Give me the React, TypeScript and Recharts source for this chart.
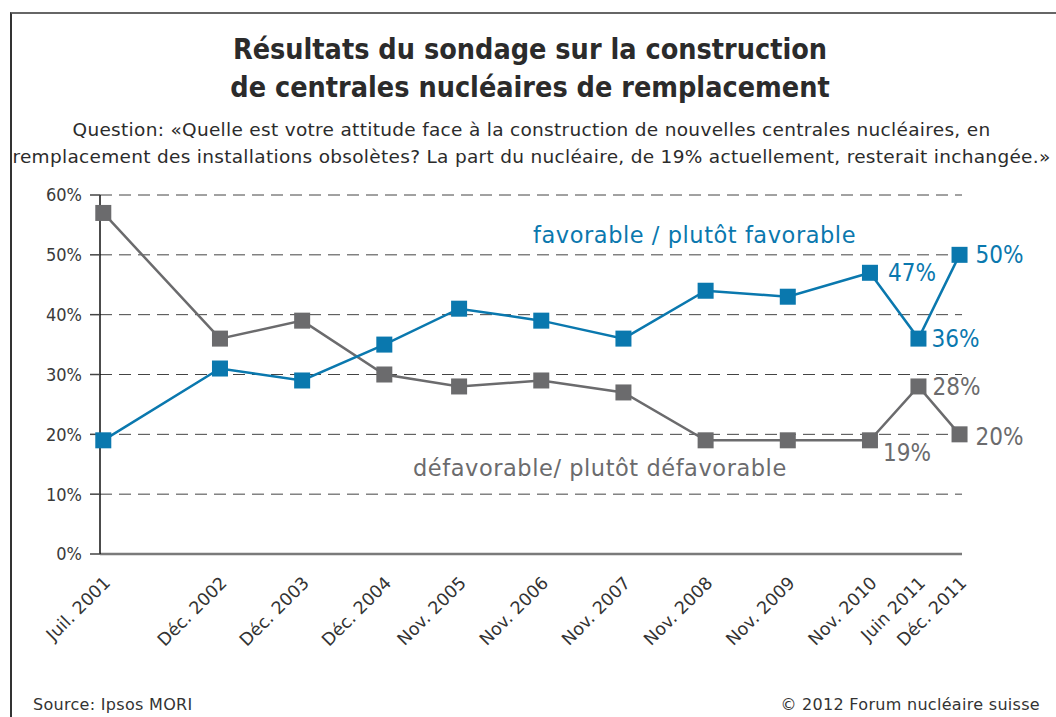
import { LineChart, Line, XAxis, YAxis, CartesianGrid, LabelList } from 'recharts';

const periods = [
  'Juil. 2001', 'Déc. 2002', 'Déc. 2003', 'Déc. 2004', 'Nov. 2005', 'Nov. 2006',
  'Nov. 2007', 'Nov. 2008', 'Nov. 2009', 'Nov. 2010', 'Juin 2011', 'Déc. 2011',
];
// survey dates as decimal years (month midpoints)
const periodDates = [2001.5, 2002.92, 2003.92, 2004.92, 2005.83, 2006.83, 2007.83, 2008.83, 2009.83, 2010.83, 2011.42, 2011.92];
const favorable = [19, 31, 29, 35, 41, 39, 36, 44, 43, 47, 36, 50];
const defavorable = [57, 36, 39, 30, 28, 29, 27, 19, 19, 19, 28, 20];
const yTicks = [0, 10, 20, 30, 40, 50, 60];

const data = periods.map((label, i) => ({
  label,
  t: periodDates[i],
  favorable: favorable[i],
  defavorable: defavorable[i],
}));

const BLUE = '#0a78ae';
const GREY = '#6b6b6d';
const COND = '"DejaVu Sans Condensed", "DejaVu Sans", sans-serif';
const FONT = '"DejaVu Sans", sans-serif';

// where the end labels sit relative to their points
const favOffsets: Record<number, [number, number]> = { 9: [18, 0], 10: [13, 0], 11: [16, 0] };
const defOffsets: Record<number, [number, number]> = { 9: [13, 12], 10: [14, 0], 11: [16, 2] };

const SquareDot = (color: string) => (props: any) => {
  const { cx, cy, index } = props;
  if (cx == null || cy == null) return null;
  return <rect key={index} x={cx - 8} y={cy - 8} width={16} height={16} fill={color} />;
};

const endLabel = (color: string, offsets: Record<number, [number, number]>) => (props: any) => {
  const { x, y, value, index } = props;
  const off = offsets[index];
  if (!off) return null;
  return (
    <text x={x + off[0]} y={y + off[1]} dy="0.35em" fill={color} fontSize={24} fontFamily={COND} textAnchor="start">
      {value}%
    </text>
  );
};

const DateTick = (props: any) => {
  const { x, y, payload } = props;
  const i = periodDates.indexOf(payload.value);
  return (
    <text
      transform={`translate(${x + 8},${y + 22}) rotate(-45)`}
      textAnchor="end"
      fontSize={17.5}
      fontFamily={FONT}
      fill="#333"
    >
      {periods[i]}
    </text>
  );
};

export default function App() {
  return (
    <div style={{ position: 'absolute', left: 0, top: 0, width: 1056, height: 717, background: '#fff', fontFamily: FONT, color: '#333', overflow: 'hidden' }}>
      <div style={{ position: 'absolute', left: 10, top: 12, width: 1060, height: 720, borderTop: '2px solid #666', borderLeft: '2px solid #333' }} />
      <div style={{ position: 'absolute', left: 0, width: 1060, top: 31, textAlign: 'center', fontFamily: COND, fontWeight: 'bold', fontSize: 28.5, lineHeight: '38px', color: '#2b2b2b' }}>
        Résultats du sondage sur la construction<br />de centrales nucléaires de remplacement
      </div>
      <div style={{ position: 'absolute', left: 0, width: 1063, top: 116, textAlign: 'center', fontSize: 18.5, letterSpacing: 0.3, lineHeight: '27px', color: '#2b2b2b', whiteSpace: 'nowrap' }}>
        Question: «Quelle est votre attitude face à la construction de nouvelles centrales nucléaires, en<br />
        remplacement des installations obsolètes? La part du nucléaire, de 19% actuellement, resterait inchangée.»
      </div>

      <div style={{ position: 'absolute', left: 0, top: 0 }}>
        <LineChart width={1056} height={717} data={data} margin={{ top: 195, right: 94, bottom: 0, left: 0 }}>
          <CartesianGrid vertical={false} stroke="#444" strokeDasharray="12 7" />
          <XAxis
            dataKey="t"
            type="number"
            domain={[2001.46, 2011.95]}
            ticks={periodDates}
            interval={0}
            height={163}
            tick={<DateTick />}
            tickLine={false}
            axisLine={{ stroke: '#7a7a7a', strokeWidth: 2.5 }}
          />
          <YAxis
            type="number"
            domain={[0, 60]}
            ticks={yTicks}
            width={100}
            tickSize={10}
            tickMargin={8}
            tickLine={{ stroke: '#444', strokeWidth: 1.5 }}
            axisLine={{ stroke: '#111', strokeWidth: 1.5 }}
            tickFormatter={(v) => `${v}%`}
            tick={{ fontSize: 18, fill: '#3a3a3a', fontFamily: COND }}
          />
          <Line
            dataKey="defavorable"
            stroke={GREY}
            strokeWidth={2.5}
            dot={SquareDot(GREY)}
            activeDot={false}
            isAnimationActive={false}
          >
            <LabelList dataKey="defavorable" content={endLabel(GREY, defOffsets)} />
          </Line>
          <Line
            dataKey="favorable"
            stroke={BLUE}
            strokeWidth={2.5}
            dot={SquareDot(BLUE)}
            activeDot={false}
            isAnimationActive={false}
          >
            <LabelList dataKey="favorable" content={endLabel(BLUE, favOffsets)} />
          </Line>
        </LineChart>
      </div>

      <div style={{ position: 'absolute', left: 533, top: 222, fontSize: 22.5, letterSpacing: 0.55, color: BLUE, whiteSpace: 'nowrap' }}>
        favorable / plutôt favorable
      </div>
      <div style={{ position: 'absolute', left: 413, top: 455, fontSize: 22.5, letterSpacing: 0.55, color: GREY, whiteSpace: 'nowrap' }}>
        défavorable/ plutôt défavorable
      </div>

      <div style={{ position: 'absolute', left: 33, top: 695, fontSize: 16, letterSpacing: 0.3, color: '#333', whiteSpace: 'nowrap' }}>Source: Ipsos MORI</div>
      <div style={{ position: 'absolute', right: 16, top: 695, fontSize: 16, letterSpacing: 0.3, color: '#333', whiteSpace: 'nowrap' }}>© 2012 Forum nucléaire suisse</div>
    </div>
  );
}
